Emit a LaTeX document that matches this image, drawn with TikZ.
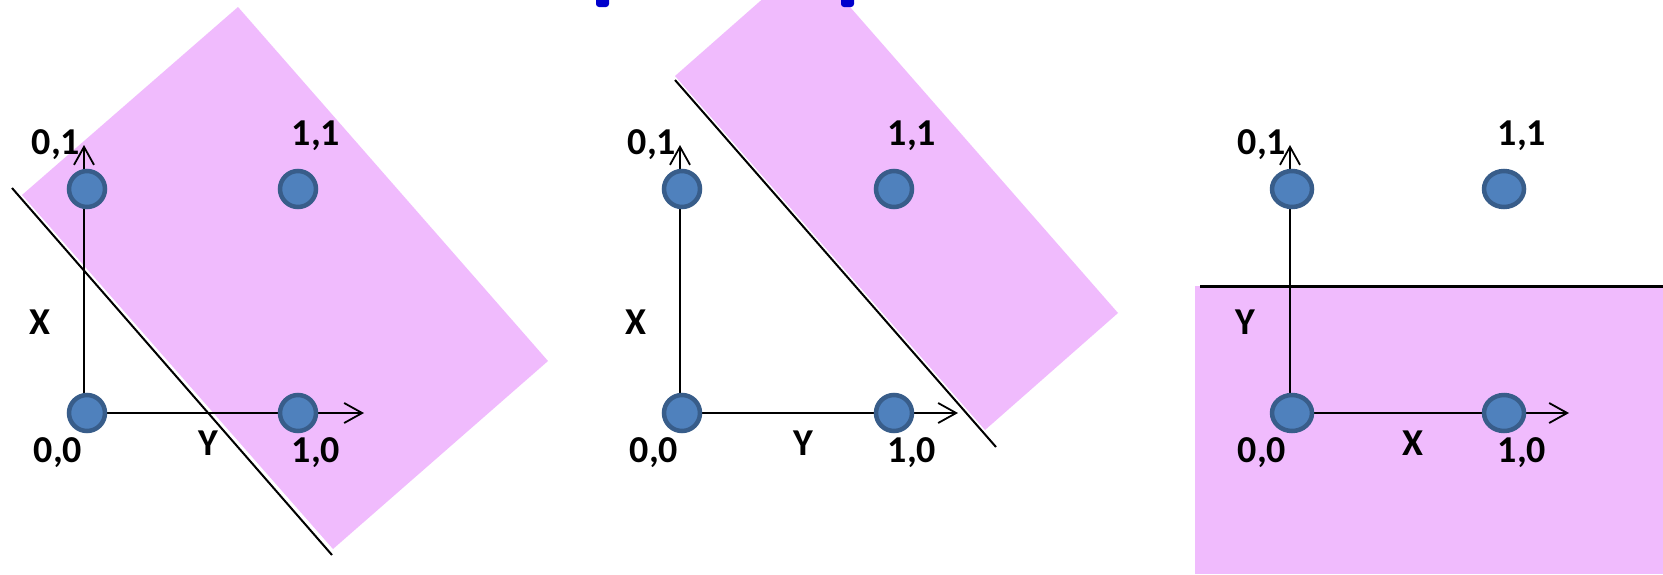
\documentclass[tikz,border=0pt]{standalone}
\usepackage{fontspec}
\setmainfont{Carlito}
\usetikzlibrary{arrows.meta,shapes.geometric}
\definecolor{pinkfill}{HTML}{F0BBFD}
\definecolor{dotfill}{HTML}{4F81BD}
\definecolor{dotedge}{HTML}{385D8A}
\definecolor{markblue}{HTML}{0000CC}
\begin{document}
\begin{tikzpicture}[x=1pt,y=-1pt,
  dot/.style={circle, fill=dotfill, draw=dotedge, line width=4.5pt, minimum size=36pt, inner sep=0pt},
  edot/.style={ellipse, fill=dotfill, draw=dotedge, line width=4.5pt, minimum width=40pt, minimum height=36pt, inner sep=0pt},
  lab/.style={font=\fontsize{38}{40}\selectfont\bfseries, inner sep=0pt},
  axis/.style={line width=1.8pt, -{Straight Barb[length=18pt,width=20pt,line width=1.8pt]}},
  sepline/.style={line width=2pt, black},
  septhick/.style={line width=3pt, black},
  region/.style={fill=pinkfill, draw=none}]
\useasboundingbox (0,0) rectangle (1663,574);
\clip (0,0) rectangle (1663,574);
\fill[white] (0,0) rectangle (1663,574);

% ---------- Panel 1 ----------
\fill[region] (238,7) -- (548,361) -- (333,549) -- (22,195) -- cycle;
\coordinate (l1a) at (12,188);
\coordinate (l1b) at (332,555);
\draw[sepline] (l1a) -- (l1b);
\coordinate (p1o) at (87,413);
\coordinate (p1vb) at (84,413);
\coordinate (p1vt) at (84,145);
\coordinate (p1ht) at (364,413);
\draw[axis] (p1vb) -- (p1vt);
\draw[axis] (p1o) -- (p1ht);
\node[dot] (a00) at (87,413) {};
\node[dot] (a01) at (87,189) {};
\node[dot] (a11) at (298,189) {};
\node[dot] (a10) at (298,413) {};
\node[lab] (a01l) at (56,145) {0,1};
\node[lab] (a11l) at (316,136) {1,1};
\node[lab] (aXl) at (40,322) {X};
\node[lab] (a00l) at (58,453) {0,0};
\node[lab] (aYl) at (208,443) {Y};
\node[lab] (a10l) at (316,453) {1,0};

% ---------- Panel 2 ----------
\fill[region] (808,-41) -- (1118,313) -- (985,430) -- (675,76) -- cycle;
\coordinate (l2a) at (675,80);
\coordinate (l2b) at (996,447);
\draw[sepline] (l2a) -- (l2b);
\coordinate (p2o) at (682,413);
\coordinate (p2vb) at (680,413);
\coordinate (p2vt) at (680,145);
\coordinate (p2ht) at (958,413);
\draw[axis] (p2vb) -- (p2vt);
\draw[axis] (p2o) -- (p2ht);
\node[dot] (b00) at (682,413) {};
\node[dot] (b01) at (682,189) {};
\node[dot] (b11) at (894,189) {};
\node[dot] (b10) at (894,413) {};
\node[lab] (b01l) at (652,145) {0,1};
\node[lab] (b11l) at (912,136) {1,1};
\node[lab] (bXl) at (636,322) {X};
\node[lab] (b00l) at (654,453) {0,0};
\node[lab] (bYl) at (803,443) {Y};
\node[lab] (b10l) at (912,453) {1,0};
\fill[markblue, rounded corners=3pt] (596,-6) rectangle (609,7);
\fill[markblue, rounded corners=3pt] (841,-6) rectangle (854,7);

% ---------- Panel 3 ----------
\fill[region] (1195,286) rectangle (1663,574);
\coordinate (l3a) at (1200,286);
\coordinate (l3b) at (1663,286);
\draw[septhick] (l3a) -- (l3b);
\coordinate (p3o) at (1292,413);
\coordinate (p3vb) at (1290,413);
\coordinate (p3vt) at (1290,145);
\coordinate (p3ht) at (1569,413);
\draw[axis] (p3vb) -- (p3vt);
\draw[axis] (p3o) -- (p3ht);
\node[edot] (c00) at (1292,413) {};
\node[edot] (c01) at (1292,189) {};
\node[edot] (c11) at (1504,189) {};
\node[edot] (c10) at (1504,413) {};
\node[lab] (c01l) at (1262,145) {0,1};
\node[lab] (c11l) at (1522,136) {1,1};
\node[lab] (cYl) at (1245,322) {Y};
\node[lab] (c00l) at (1262,453) {0,0};
\node[lab] (cXl) at (1413,443) {X};
\node[lab] (c10l) at (1522,453) {1,0};
\end{tikzpicture}
\end{document}
